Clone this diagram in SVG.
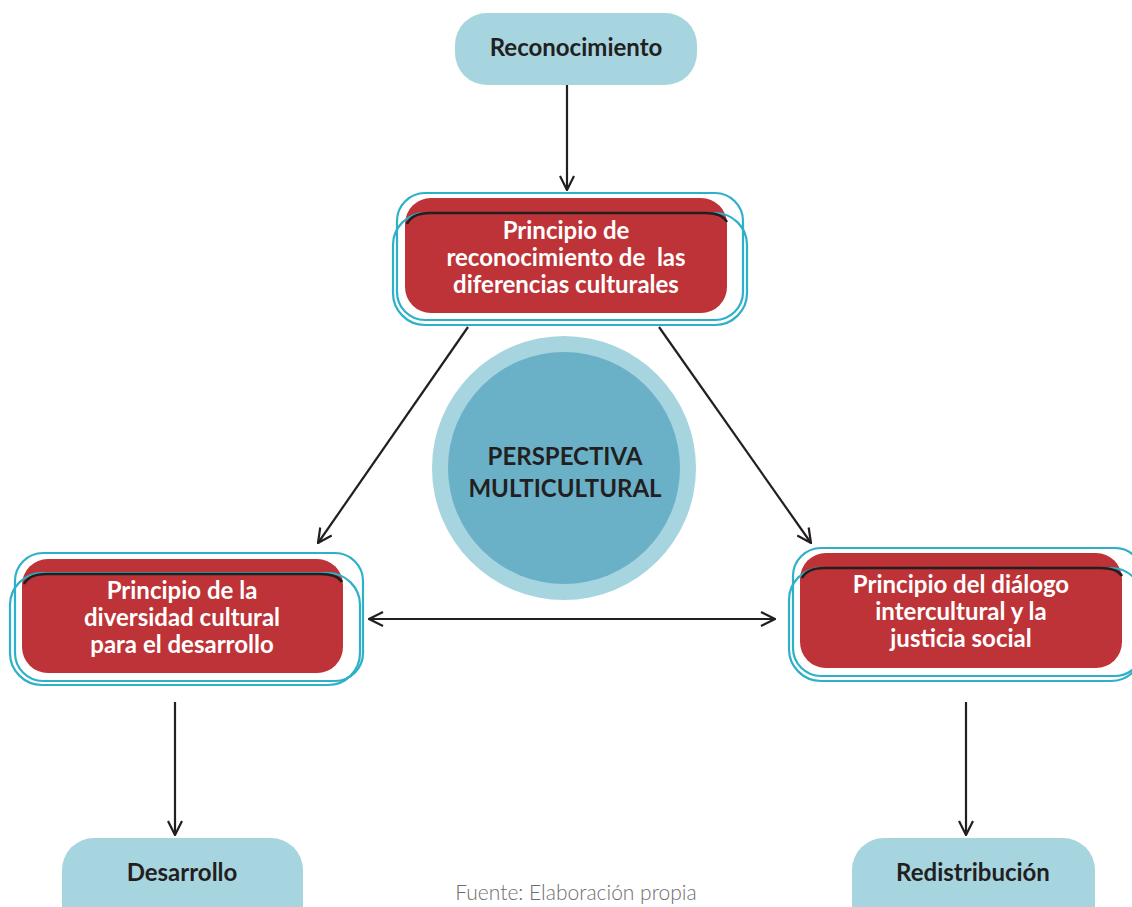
<svg xmlns="http://www.w3.org/2000/svg" width="1132" height="907" viewBox="0 0 1132 907">
<defs>
<style>
.pill{fill:#A6D5E0}
.pillt{font-family:Lato,"Liberation Sans",sans-serif;font-weight:700;font-size:24px;fill:#231F20;text-anchor:middle}
.red{fill:#BE3337}
.redt{font-family:Lato,"Liberation Sans",sans-serif;font-weight:700;font-size:24px;fill:#FFFFFF;text-anchor:middle}
.cy{fill:none;stroke:#2DB0C8;stroke-width:2.2}
.blk{fill:none;stroke:#231F20;stroke-width:2.5}
.con{fill:none;stroke:#231F20;stroke-width:2.2}
</style>
<marker id="ah" viewBox="0 0 16 16" refX="15" refY="8" markerWidth="16" markerHeight="16" markerUnits="userSpaceOnUse" orient="auto-start-reverse">
<path d="M1,1 L15,8 L1,15" fill="none" stroke="#231F20" stroke-width="2.2"/>
</marker>
</defs>
<rect width="1132" height="907" fill="#FFFFFF"/>

<g id="connectors">
<line class="con" x1="567" y1="80" x2="567" y2="190" marker-end="url(#ah)"/>
<line class="con" x1="468" y1="327" x2="318" y2="543" marker-end="url(#ah)"/>
<line class="con" x1="659" y1="327" x2="811" y2="543" marker-end="url(#ah)"/>
<line class="con" x1="369" y1="619" x2="775" y2="619" marker-start="url(#ah)" marker-end="url(#ah)"/>
<line class="con" x1="175" y1="702" x2="175" y2="835" marker-end="url(#ah)"/>
<line class="con" x1="966" y1="702" x2="966" y2="835" marker-end="url(#ah)"/>
</g>

<g id="reconocimiento">
<rect class="pill" x="455" y="13" width="242" height="72" rx="32"/>
<text class="pillt" x="576" y="56">Reconocimiento</text>
</g>

<g id="principio-reconocimiento">
<rect class="red" x="405" y="198" width="322" height="115" rx="26"/>
<rect class="cy" x="397" y="193" width="346" height="127" rx="28"/>
<rect class="cy" x="393" y="213" width="354" height="112" rx="32"/>
<path class="blk" d="M407,224 Q412,213 430,213 L705,213 Q722,213 727,222"/>
<text class="redt" x="566" y="239">Principio de</text>
<text class="redt" x="566" y="266">reconocimiento de&#160; las</text>
<text class="redt" x="566" y="293">diferencias culturales</text>
</g>

<g id="perspectiva">
<circle cx="564" cy="468" r="132" fill="#A6D5E0"/>
<circle cx="564" cy="468" r="116" fill="#6AB1C8"/>
<text class="pillt" x="565" y="465">PERSPECTIVA</text>
<text class="pillt" x="565" y="497">MULTICULTURAL</text>
</g>

<g id="principio-diversidad">
<rect class="red" x="22" y="559" width="321" height="114" rx="26"/>
<rect class="cy" x="15" y="553" width="348" height="128" rx="28"/>
<rect class="cy" x="10" y="573" width="350" height="112" rx="32"/>
<path class="blk" d="M24,584 Q29,574 47,574 L320,574 Q337,574 342,582"/>
<text class="redt" x="182" y="599">Principio de la</text>
<text class="redt" x="182" y="626">diversidad cultural</text>
<text class="redt" x="182" y="653">para el desarrollo</text>
</g>

<g id="principio-dialogo">
<rect class="red" x="800" y="553" width="322" height="115" rx="26"/>
<rect class="cy" x="793" y="548" width="350" height="128" rx="28"/>
<rect class="cy" x="789" y="568" width="354" height="113" rx="32"/>
<path class="blk" d="M802,578 Q807,568 825,568 L1100,568 Q1117,568 1122,576"/>
<text class="redt" x="961" y="593">Principio del diálogo</text>
<text class="redt" x="961" y="620">intercultural y la</text>
<text class="redt" x="961" y="647">justicia social</text>
</g>

<g id="desarrollo">
<rect class="pill" x="62" y="838" width="241" height="100" rx="32"/>
<text class="pillt" x="182" y="881">Desarrollo</text>
</g>

<g id="redistribucion">
<rect class="pill" x="852" y="838" width="243" height="100" rx="32"/>
<text class="pillt" x="973" y="881">Redistribución</text>
</g>

<text x="576" y="900" font-family="Lato,'Liberation Sans',sans-serif" font-weight="300" font-size="21" fill="#6D6E71" text-anchor="middle">Fuente: Elaboración propia</text>
</svg>
